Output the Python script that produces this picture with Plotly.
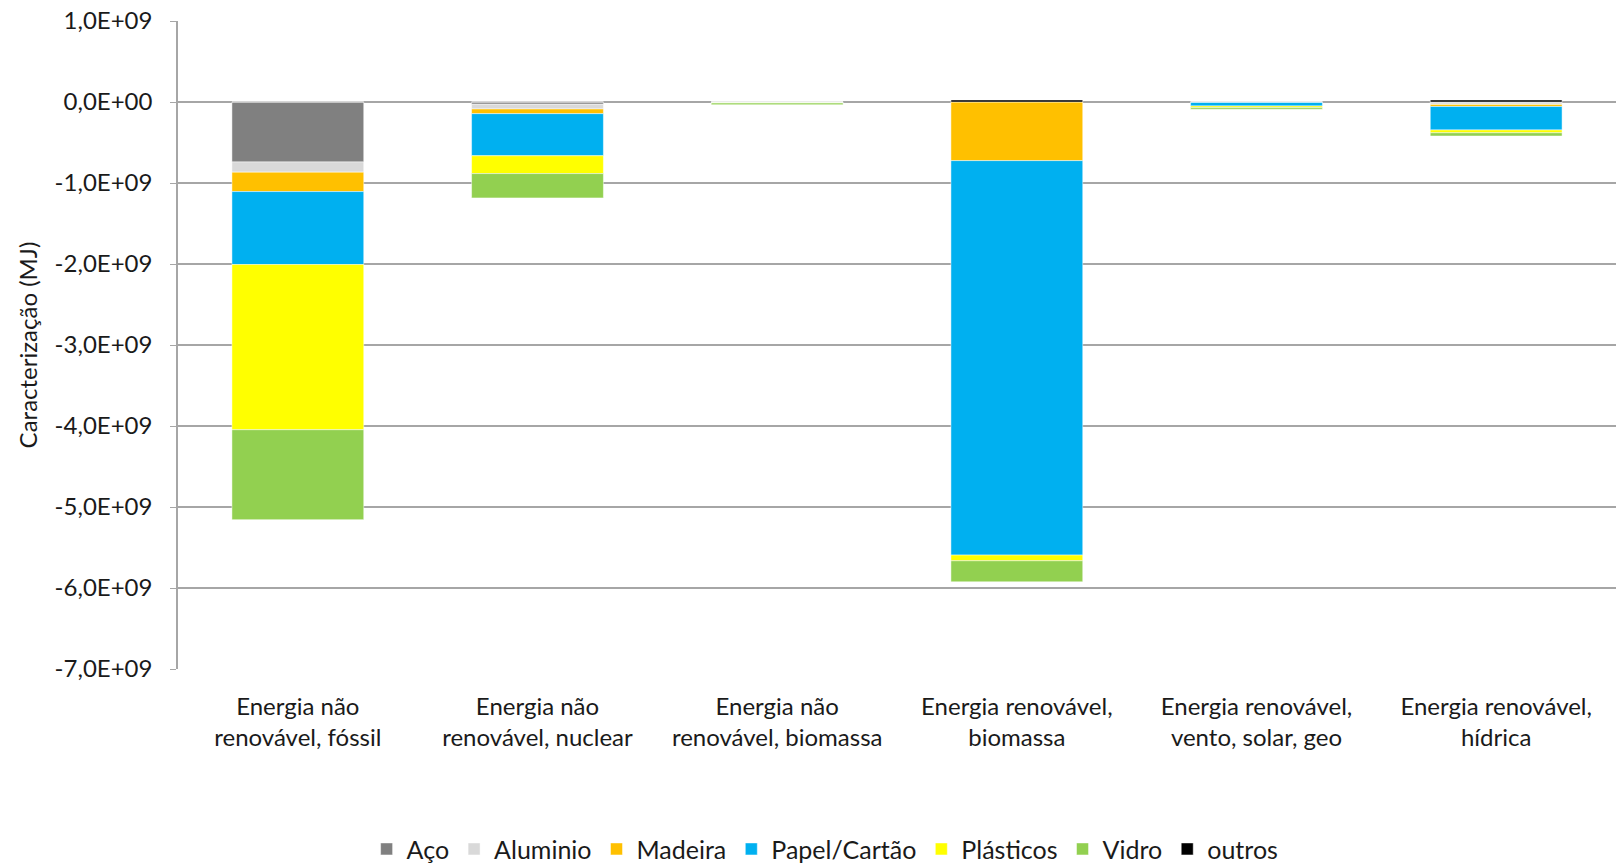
import plotly.graph_objects as go

categories = [
    "Energia não<br>renovável, fóssil",
    "Energia não<br>renovável, nuclear",
    "Energia não<br>renovável, biomassa",
    "Energia renovável,<br>biomassa",
    "Energia renovável,<br>vento, solar, geo",
    "Energia renovável,<br>hídrica",
]

aco = [-0.74e9, -0.028e9, -0.002e9, 0.0, -0.002e9, -0.01e9]
aluminio = [-0.126e9, -0.058e9, -0.001e9, 0.0, -0.001e9, -0.02e9]
madeira = [-0.24e9, -0.058e9, -0.001e9, -0.724e9, -0.001e9, -0.025e9]
papel = [-0.90e9, -0.52e9, -0.004e9, -4.87e9, -0.045e9, -0.29e9]
plasticos = [-2.04e9, -0.22e9, -0.005e9, -0.07e9, -0.02e9, -0.035e9]
vidro = [-1.11e9, -0.30e9, -0.02e9, -0.26e9, -0.02e9, -0.04e9]
outros = [0.0, 0.0, 0.0, 0.025e9, 0.0, 0.025e9]

series_names = ["Aço", "Aluminio", "Madeira", "Papel/Cartão", "Plásticos", "Vidro", "outros"]
series_values = [aco, aluminio, madeira, papel, plasticos, vidro, outros]
colors = ["#808080", "#D9D9D9", "#FFC000", "#00B0F0", "#FFFF00", "#92D050", "#000000"]

tick_vals = [1e9, 0, -1e9, -2e9, -3e9, -4e9, -5e9, -6e9, -7e9]
tick_text = ["1,0E+09", "0,0E+00", "-1,0E+09", "-2,0E+09", "-3,0E+09",
             "-4,0E+09", "-5,0E+09", "-6,0E+09", "-7,0E+09"]

fig = go.Figure()
for name, vals, col in zip(series_names, series_values, colors):
    fig.add_trace(go.Bar(
        x=categories, y=vals, name=name,
        marker=dict(color=col, line=dict(color="rgba(255,255,255,0.6)", width=0.8)),
    ))

font_family = "Lato, 'Open Sans', sans-serif"
txt = "#1a1a1a"
fig.update_layout(
    barmode="relative",
    bargap=0.45,
    width=1616, height=863,
    margin=dict(l=178, r=0, t=21, b=194),
    plot_bgcolor="white", paper_bgcolor="white",
    font=dict(family=font_family, size=24, color=txt),
    legend=dict(
        orientation="h", xref="paper", yref="container",
        x=0.45, xanchor="center", y=0.016, yanchor="middle",
        font=dict(size=25, color=txt), traceorder="normal",
        itemwidth=30,
    ),
    showlegend=True,
)
fig.update_yaxes(
    range=[-7e9, 1e9],
    tickvals=tick_vals, ticktext=tick_text,
    showgrid=True, gridcolor="#a6a6a6", gridwidth=1.5,
    showline=True, linecolor="#a6a6a6", linewidth=1.5,
    ticks="outside", ticklen=6, tickcolor="#a6a6a6",
    ticklabelstandoff=13,
    zeroline=False,
    tickfont=dict(size=24, color=txt),
    title=dict(text="Caracterização (MJ)", font=dict(size=24, color=txt), standoff=10),
)
fig.update_xaxes(
    showline=False, showgrid=False,
    tickfont=dict(size=24, color=txt),
    ticklabelstandoff=21,
)

fig.write_html("out.html")
